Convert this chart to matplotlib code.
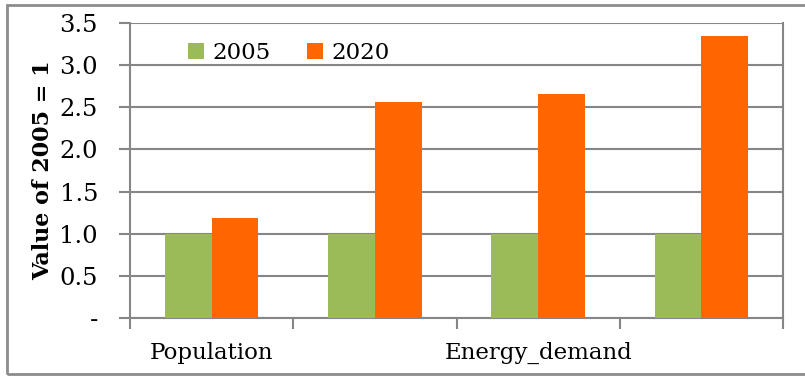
import matplotlib
matplotlib.use("Agg")
import matplotlib.pyplot as plt
from matplotlib.patches import Rectangle
import numpy as np

categories = ["Population", "", "Energy_demand", ""]
series_names = ["2005", "2020"]
values_2005 = [1.0, 1.0, 1.0, 1.0]
values_2020 = [1.19, 2.56, 2.66, 3.35]
y_ticks = [0, 0.5, 1.0, 1.5, 2.0, 2.5, 3.0, 3.5]
y_tick_labels = ["-", "0.5", "1.0", "1.5", "2.0", "2.5", "3.0", "3.5"]

green = "#9BBB59"
orange = "#FF6600"
gray = "#868686"

plt.rcParams['font.family'] = ['DejaVu Serif']

fig = plt.figure(figsize=(8.05, 3.76), dpi=100)
# outer frame (right edge lies outside the image)
fig.patches.append(Rectangle((7/805, 2/376), 1.2, (374-5)/376, transform=fig.transFigure,
                             fill=False, edgecolor="#8c8c8c", linewidth=2.0))

ax = fig.add_axes([130/805, (376-318)/376, (783-130)/805, (318-23)/376])
x = np.arange(len(categories))
w = 0.287
ax.bar(x - w/2, values_2005, width=w, color=green, label=series_names[0], zorder=3)
ax.bar(x + w/2, values_2020, width=w, color=orange, label=series_names[1], zorder=3)

ax.set_xlim(-0.5, len(categories) - 0.5)
ax.set_ylim(0, 3.5)
ax.set_yticks(y_ticks)
ax.set_yticklabels(y_tick_labels, fontsize=17.5)
ax.yaxis.grid(True, color=gray, linewidth=1.5, zorder=0)
ax.tick_params(axis='y', length=8, color=gray, width=1.5, pad=15)

ax.set_xticks(x)
ax.set_xticklabels(categories, fontsize=16.5)
ax.tick_params(axis='x', which='major', length=0, pad=17)
ax.set_xticks(np.arange(-0.5, len(categories)), minor=True)
ax.tick_params(axis='x', which='minor', length=8, color=gray, width=1.5)

for s in ["left", "bottom", "right", "top"]:
    ax.spines[s].set_color(gray)
    ax.spines[s].set_linewidth(1.5)
ax.spines["top"].set_visible(False)

ax.set_ylabel("Value of 2005 = 1", fontsize=16, fontweight="bold", labelpad=4)

leg = ax.legend(loc="upper left", bbox_to_anchor=(0.075, 0.965), ncol=2, frameon=False,
                fontsize=16.5, handlelength=0.7, handleheight=0.7, handletextpad=0.35,
                columnspacing=1.6, borderaxespad=0)

fig.savefig("out.png", dpi=100)
